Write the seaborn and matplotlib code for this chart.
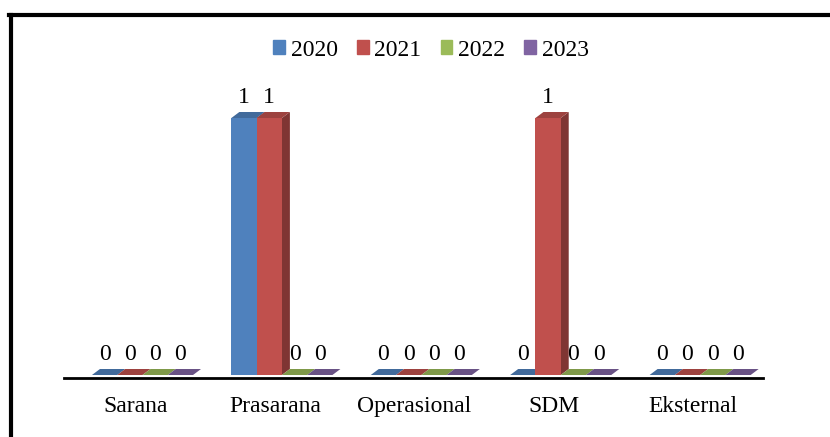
import numpy as np
import pandas as pd
import seaborn as sns
import matplotlib.pyplot as plt
from matplotlib.patches import Polygon
from matplotlib.lines import Line2D
from matplotlib.colors import to_rgb

categories = ['Sarana', 'Prasarana', 'Operasional', 'SDM', 'Eksternal']
years = ['2020', '2021', '2022', '2023']
v2020 = [0, 1, 0, 0, 0]
v2021 = [0, 1, 0, 1, 0]
v2022 = [0, 0, 0, 0, 0]
v2023 = [0, 0, 0, 0, 0]
colors = ['#4F81BD', '#C0504D', '#9BBB59', '#8064A2']

df = pd.DataFrame({
    'kategori': categories * 4,
    'tahun': [y for y in years for _ in categories],
    'nilai': v2020 + v2021 + v2022 + v2023,
})

plt.rcParams['font.family'] = ['Liberation Serif', 'DejaVu Serif']
fig = plt.figure(figsize=(8.3, 4.37), dpi=100)
W, H = 830, 437
ax = fig.add_axes([64 / W, (H - 378) / H, 699 / W, (378 - 90) / H])

sns.barplot(data=df, x='kategori', y='nilai', hue='tahun', palette=colors,
            width=0.725, ax=ax, legend=False, saturation=1, linewidth=0)

# axis limits so that 1 unit in y = 257 px, base at 375 px
ax.set_xlim(-0.563, 4.451)
ax.set_ylim(-3 / 257, (375 - 90) / 257)

for s in ['top', 'right', 'left']:
    ax.spines[s].set_visible(False)
ax.spines['bottom'].set_linewidth(2)
ax.set_yticks([])
ax.set_xlabel('')
ax.set_ylabel('')
ax.set_xticks(np.arange(len(categories)) - 0.05)
ax.set_xticklabels(categories, fontsize=17)
ax.tick_params(axis='x', length=0, pad=13)

# 3D look: top faces and side faces
px_x = 699 / (4.451 + 0.563)
px_y = 257
dx = 8 / px_x
dy = 6 / px_y

def shade(c, f):
    r, g, b = to_rgb(c)
    return (r * f, g * f, b * f)

bars = sorted(ax.patches, key=lambda p: p.get_x())
for i, p in enumerate(bars):
    x0 = p.get_x()
    w = p.get_width()
    h = p.get_height()
    c = p.get_facecolor()
    p.set_zorder(3 + i * 0.01)
    top = Polygon([(x0, h), (x0 + w, h), (x0 + w + dx, h + dy), (x0 + dx, h + dy)],
                  closed=True, facecolor=shade(c, 0.82), edgecolor='none',
                  zorder=3 + i * 0.01)
    side = Polygon([(x0 + w, 0), (x0 + w + dx, dy), (x0 + w + dx, h + dy), (x0 + w, h)],
                   closed=True, facecolor=shade(c, 0.66), edgecolor='none',
                   zorder=3 + i * 0.01 - 0.001)
    ax.add_patch(side)
    ax.add_patch(top)

for cont in ax.containers:
    ax.bar_label(cont, labels=[str(int(v)) for v in cont.datavalues],
                 padding=7, fontsize=17)

handles = [plt.Rectangle((0, 0), 1, 1, color=c) for c in colors]
fig.legend(handles, years, loc='center', bbox_to_anchor=(431 / W, 1 - 50 / H),
           ncol=4, frameon=False, fontsize=17, handlelength=0.5, handleheight=0.5,
           handletextpad=0.25, columnspacing=0.8, borderpad=0)

# border lines (left and top)
fig.add_artist(Line2D([10.5 / W, 10.5 / W], [0, 1 - 15 / H], color='black',
                      linewidth=3, transform=fig.transFigure))
fig.add_artist(Line2D([9 / W, 1], [1 - 15 / H, 1 - 15 / H], color='black',
                      linewidth=3, transform=fig.transFigure))

plt.savefig('out.png', dpi=100)
